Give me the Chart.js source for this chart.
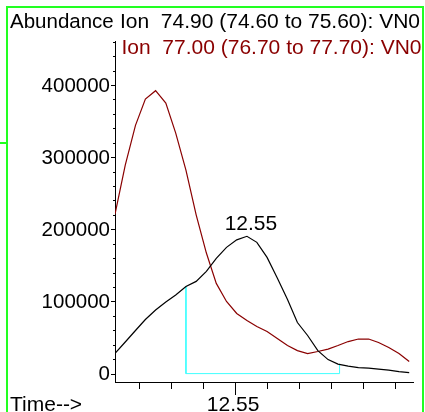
<!DOCTYPE html>
<html>
<head>
<meta charset="utf-8">
<script src="https://cdn.jsdelivr.net/npm/chart.js@4/dist/chart.umd.min.js"></script>
<style>
  html, body { margin: 0; padding: 0; background: #fff; }
  #wrap { width: 425px; height: 412px; }
</style>
</head>
<body>
<div id="wrap"><canvas id="chart" width="425" height="412"></canvas></div>
<script>
// ---- data (time in min, abundance in counts) ----
const times = [12.5124, 12.5156, 12.5188, 12.5219, 12.5251, 12.5283, 12.5314, 12.5346, 12.5378, 12.5410,
               12.5441, 12.5473, 12.5505, 12.5537, 12.5568, 12.5600, 12.5632, 12.5664, 12.5695, 12.5727,
               12.5759, 12.5791, 12.5822, 12.5854, 12.5886, 12.5918, 12.5949, 12.5981, 12.6013, 12.6045];
const ion7490 = [28200, 43800, 59700, 75000, 88200, 99300, 109000, 120800, 127800, 141700,
                 159700, 175000, 185400, 190300, 181900, 161100, 132600, 102800, 70800, 52800,
                 31900, 19400, 13200, 10400, 8300, 7600, 6300, 4900, 2800, 1400];
const ion7700 = [221000, 289000, 344000, 380600, 392100, 375000, 333300, 281900, 220000, 167100,
                 125000, 100000, 83300, 73600, 65300, 58300, 48600, 38900, 31900, 27800,
                 30600, 34000, 38900, 44400, 47900, 47900, 43100, 36100, 27800, 16700];
// integration baseline of the 12.55 peak
const baseTimes = [12.5346, 12.5346, 12.5827, 12.5827];
const baseValues = [120800, 0, 0, 13500];

// axis ticks
const xTicks = [12.52, 12.53, 12.54, 12.55, 12.56, 12.57, 12.58, 12.59, 12.60];
const xLabelTicks = [12.55];
const yTicks = [0, 20000, 40000, 60000, 80000, 100000, 120000, 140000, 160000, 180000, 200000,
                220000, 240000, 260000, 280000, 300000, 320000, 340000, 360000, 380000, 400000,
                420000, 440000, 460000];
const yLabelTicks = [0, 100000, 200000, 300000, 400000];

const yTitle = 'Abundance';
const ionLabels = ['Ion  74.90 (74.60 to 75.60): VN0', 'Ion  77.00 (76.70 to 77.70): VN0'];
const xTitle = 'Time-->';
const peakLabel = '12.55';

const BLACK = '#000000';
const RED = '#8a0000';
const CYAN = '#40ffff';
const FONT = '"Liberation Sans", Arial, sans-serif';

const pts = (xs, ys) => xs.map((t, i) => ({ x: t, y: ys[i] }));
const isLabel = (list, v) => list.some(t => Math.abs(t - v) < 1e-6);

const decor = {
  id: 'decor',
  afterDraw(chart) {
    const { ctx, chartArea: a, scales: { x, y } } = chart;
    ctx.save();
    // axis tick marks
    ctx.strokeStyle = BLACK;
    ctx.lineWidth = 1;
    ctx.beginPath();
    y.ticks.forEach(t => {
      const py = Math.round(y.getPixelForValue(t.value)) + 0.5;
      const len = isLabel(yLabelTicks, t.value) ? 4 : 2;
      ctx.moveTo(a.left - len, py); ctx.lineTo(a.left, py);
    });
    x.ticks.forEach(t => {
      const px = Math.round(x.getPixelForValue(t.value)) + 0.5;
      ctx.moveTo(px, a.bottom); ctx.lineTo(px, a.bottom + (isLabel(xLabelTicks, t.value) ? 13 : 7));
    });
    ctx.stroke();

    // y tick labels
    ctx.fillStyle = BLACK;
    ctx.font = '20.5px ' + FONT;
    ctx.textAlign = 'right';
    ctx.textBaseline = 'middle';
    yLabelTicks.forEach(v => ctx.fillText(String(v), a.left - 5, y.getPixelForValue(v) + 1));

    // peak label above the black apex
    let iMax = 0;
    ion7490.forEach((v, i) => { if (v > ion7490[iMax]) iMax = i; });
    ctx.font = '21px ' + FONT;
    ctx.textAlign = 'center';
    ctx.textBaseline = 'alphabetic';
    ctx.fillText(peakLabel, x.getPixelForValue(times[iMax]) + 4, y.getPixelForValue(ion7490[iMax]) - 6);

    // header texts
    ctx.save();
    ctx.beginPath(); ctx.rect(0, 0, 421.7, 412); ctx.clip();
    ctx.textAlign = 'left';
    ctx.font = '20.5px ' + FONT;
    ctx.fillText(yTitle, 10, 28);
    ctx.font = '21px ' + FONT;
    ctx.fillText(ionLabels[0], 120, 28);
    ctx.fillStyle = RED;
    ctx.fillText(ionLabels[1], 121.5, 54);
    ctx.restore();

    ctx.fillStyle = BLACK;
    ctx.textAlign = 'left';
    ctx.font = '21px ' + FONT;
    ctx.fillText(xTitle, 10, 411);

    // green frame
    ctx.strokeStyle = '#22ff22';
    ctx.lineWidth = 2;
    ctx.beginPath();
    ctx.moveTo(7, 412); ctx.lineTo(7, 7); ctx.lineTo(423, 7); ctx.lineTo(423, 412);
    ctx.moveTo(0, 143); ctx.lineTo(7, 143);
    ctx.stroke();
    ctx.restore();
  }
};

Chart.defaults.font.family = FONT;
Chart.defaults.font.size = 21;
Chart.defaults.color = BLACK;

new Chart(document.getElementById('chart'), {
  type: 'line',
  data: {
    datasets: [
      { label: 'Ion 74.90', data: pts(times, ion7490), borderColor: BLACK, borderWidth: 1.2, pointRadius: 0, tension: 0, fill: false },
      { label: 'Ion 77.00', data: pts(times, ion7700), borderColor: RED, borderWidth: 1.2, pointRadius: 0, tension: 0, fill: false },
      { label: 'baseline', data: pts(baseTimes, baseValues), borderColor: CYAN, borderWidth: 1, pointRadius: 0, tension: 0, fill: false }
    ]
  },
  options: {
    responsive: false,
    animation: false,
    events: [],
    layout: { padding: { top: 41, right: 12, left: 0, bottom: 0 } },
    plugins: { legend: { display: false }, tooltip: { enabled: false } },
    scales: {
      x: {
        type: 'linear',
        min: 12.51239,
        max: 12.60569,
        grid: { display: false, drawTicks: false },
        border: { display: true, color: BLACK, width: 1 },
        afterBuildTicks: s => { s.ticks = xTicks.map(v => ({ value: v })); },
        ticks: {
          autoSkip: false,
          maxRotation: 0,
          padding: 11,
          labelOffset: -2,
          color: BLACK,
          callback: v => isLabel(xLabelTicks, v) ? v.toFixed(2) : ''
        },
        afterFit: s => { s.height = 30; }
      },
      y: {
        type: 'linear',
        min: -11650,
        max: 461000,
        grid: { display: false, drawTicks: false },
        border: { display: true, color: BLACK, width: 1 },
        afterBuildTicks: s => { s.ticks = yTicks.map(v => ({ value: v })); },
        ticks: { display: false, autoSkip: false },
        afterFit: s => { s.width = 115; }
      }
    }
  },
  plugins: [decor]
});
</script>
</body>
</html>
